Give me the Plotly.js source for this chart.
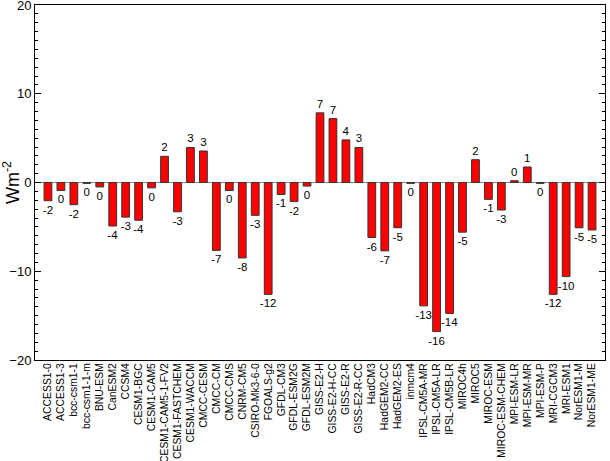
<!DOCTYPE html>
<html><head><meta charset="utf-8">
<script src="https://cdn.plot.ly/plotly-3.0.1.min.js"></script>
<style>body{margin:0;background:#fff}#c{width:610px;height:461px}</style>
</head><body><div id="c"></div>
<script>
const models = ["ACCESS1-0","ACCESS1-3","bcc-csm1-1","bcc-csm1-1-m","BNU-ESM","CanESM2","CCSM4","CESM1-BGC","CESM1-CAM5","CESM1-CAM5-1-FV2","CESM1-FASTCHEM","CESM1-WACCM","CMCC-CESM","CMCC-CM","CMCC-CMS","CNRM-CM5","CSIRO-Mk3-6-0","FGOALS-g2","GFDL-CM3","GFDL-ESM2G","GFDL-ESM2M","GISS-E2-H","GISS-E2-H-CC","GISS-E2-R","GISS-E2-R-CC","HadCM3","HadGEM2-CC","HadGEM2-ES","inmcm4","IPSL-CM5A-MR","IPSL-CM5A-LR","IPSL-CM5B-LR","MIROC4h","MIROC5","MIROC-ESM","MIROC-ESM-CHEM","MPI-ESM-LR","MPI-ESM-MR","MPI-ESM-P","MRI-CGCM3","MRI-ESM1","NorESM1-M","NorESM1-ME"];
const values = [-2.05,-0.9,-2.5,-0.1,-0.5,-4.9,-3.9,-4.25,-0.6,2.95,-3.3,3.95,3.55,-7.65,-0.9,-8.5,-3.7,-12.6,-1.35,-2.15,-0.4,7.85,7.2,4.8,3.95,-6.2,-7.7,-5.1,-0.1,-13.9,-16.8,-14.75,-5.6,2.57,-1.9,-3.1,0.2,1.75,-0.1,-12.6,-10.6,-5.1,-5.35];
const labels = values.map(v => String(Math.trunc(v) === 0 ? 0 : Math.trunc(v)));
const idx = models.map((m,i)=>i);
const trace = {
  type:'bar', x: idx, y: values, text: labels, textposition:'outside',
  cliponaxis:false, constraintext:'none',
  textfont:{family:'Liberation Sans, Arial, sans-serif', size:11.5, color:'#000'},
  marker:{color:'#ff0000', line:{color:'#333', width:1}},
  width:0.6, hoverinfo:'none'
};
const layout = {
  width:610, height:461, margin:{l:35, r:5, t:5, b:101},
  paper_bgcolor:'#fff', plot_bgcolor:'#fff', showlegend:false,
  font:{family:'Liberation Sans, Arial, sans-serif', color:'#000'},
  xaxis:{range:[-1,43], tickmode:'array', tickvals:idx, ticktext:models, tickangle:-90,
    tickfont:{size:10.4}, showline:true, linecolor:'#000', linewidth:1, mirror:true,
    showgrid:false, zeroline:false, ticks:'', ticklabelstandoff:-2, fixedrange:true},
  yaxis:{range:[-20,20], dtick:10, tick0:0, ticks:'inside', ticklen:6, tickcolor:'#000',
    tickfont:{size:13}, showline:true, linecolor:'#000', linewidth:1, mirror:'allticks',
    showgrid:false, zeroline:true, zerolinecolor:'#888', zerolinewidth:1,
    ticklabeloverflow:'allow',
    minor:{dtick:1, ticks:'inside', ticklen:3, tickcolor:'#000'},
    title:{text:'Wm<sup>-2</sup>', font:{size:18}, standoff:4}},
  bargap:0.4
};
Plotly.newPlot('c',[trace],layout,{displayModeBar:false,staticPlot:true});
</script></body></html>
